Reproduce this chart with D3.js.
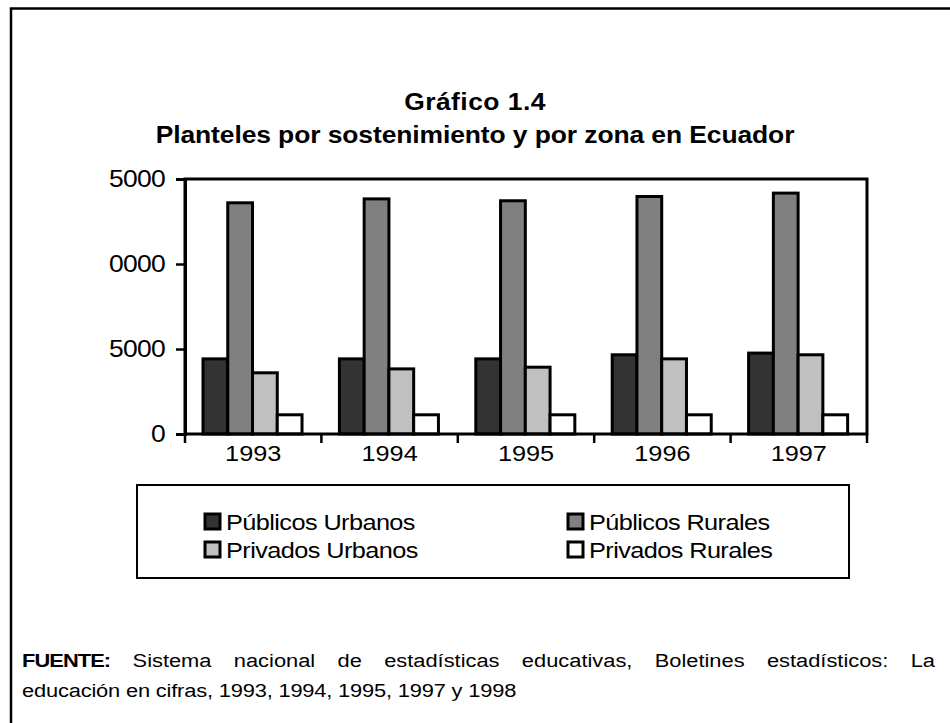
<!DOCTYPE html>
<html>
<head>
<meta charset="utf-8">
<script src="https://cdn.jsdelivr.net/npm/d3@7"></script>
<style>
  html, body { margin: 0; padding: 0; background: #fff; }
  svg text { font-family: "Liberation Sans", Arial, sans-serif; fill: #000; }
</style>
</head>
<body>
<svg id="chart" width="950" height="723"></svg>
<script>
// ---- data ----
const years = ["1993", "1994", "1995", "1996", "1997"];
const seriesNames = ["Públicos Urbanos", "Públicos Rurales", "Privados Urbanos", "Privados Rurales"];
const publicosUrbanos = [4420, 4420, 4420, 4660, 4760];
const publicosRurales = [13600, 13830, 13720, 13970, 14170];
const privadosUrbanos = [3600, 3830, 3930, 4420, 4660];
const privadosRurales = [1130, 1130, 1130, 1130, 1130];
const yTicks = [0, 5000, 10000, 15000];
// labels as printed in the source (leading digit cut off there)
const yTickLabels = ["0", "5000", "0000", "5000"];
const titleLines = ["Gráfico 1.4", "Planteles por sostenimiento y por zona en Ecuador"];
const sourceBold = "FUENTE:";
const sourceLine1 = "Sistema nacional de estadísticas educativas, Boletines estadísticos: La";
const sourceLine2 = "educación en cifras, 1993, 1994, 1995, 1997 y 1998";

const seriesValues = [publicosUrbanos, publicosRurales, privadosUrbanos, privadosRurales];
const fills = ["#333333", "#808080", "#c0c0c0", "#ffffff"];

// ---- layout ----
const SX = 1.15; // horizontal text stretch seen in the reference
const svg = d3.select("#chart");
const plot = { left: 185, right: 867, top: 179, bottom: 434 };

function txt(g, x, y, s, size, opts = {}) {
  const t = g.append("text")
    .attr("transform", `translate(${x},${y}) scale(${SX},1)`)
    .attr("font-size", size)
    .attr("font-weight", opts.bold ? "bold" : "normal")
    .attr("text-anchor", opts.anchor || "start")
    .text(s);
  if (opts.spacing) t.attr("letter-spacing", opts.spacing);
  return t;
}

// outer frame (left + top lines)
svg.append("path")
  .attr("d", "M11,723 V8.5 H950")
  .attr("fill", "none").attr("stroke", "#000").attr("stroke-width", 2.5);

// title
txt(svg, 475, 110, titleLines[0], 23, { bold: true, anchor: "middle", spacing: 0.4 });
txt(svg, 475, 143, titleLines[1], 23, { bold: true, anchor: "middle", spacing: -0.08 });

// scales
const x0 = d3.scaleBand().domain(years).range([plot.left, plot.right]).padding(0);
const bw = x0.bandwidth();
const x1 = d3.scaleBand().domain(seriesNames).range([bw * 0.132, bw * 0.858]).padding(0);
const y = d3.scaleLinear().domain([0, 15000]).range([plot.bottom, plot.top]);

// bars
const data = years.map((yr, i) => ({ year: yr, vals: seriesNames.map((s, j) => ({ s, j, v: seriesValues[j][i] })) }));
const groups = svg.append("g").selectAll("g").data(data).join("g")
  .attr("transform", d => `translate(${x0(d.year)},0)`);
groups.selectAll("rect").data(d => d.vals).join("rect")
  .attr("x", d => x1(d.s))
  .attr("width", x1.bandwidth())
  .attr("y", d => y(d.v))
  .attr("height", d => y(0) - y(d.v))
  .attr("fill", d => fills[d.j])
  .attr("stroke", "#000")
  .attr("stroke-width", 3);

// plot frame
svg.append("rect")
  .attr("x", plot.left).attr("y", plot.top)
  .attr("width", plot.right - plot.left).attr("height", plot.bottom - plot.top)
  .attr("fill", "none").attr("stroke", "#000").attr("stroke-width", 3);

// y axis ticks
const yAxis = d3.axisLeft(y).tickValues(yTicks).tickSize(9).tickFormat("");
const ya = svg.append("g").attr("transform", `translate(${plot.left},0)`).call(yAxis);
ya.select(".domain").attr("stroke-width", 3);
ya.selectAll(".tick line").attr("stroke-width", 2.5);

// y labels
yTicks.forEach((v, i) => {
  txt(svg, 165, y(v) + 8, yTickLabels[i], 23, { anchor: "end", spacing: -0.6 });
});

// x axis ticks at band boundaries
const boundaries = years.map(yr => x0(yr)).concat([plot.right]);
svg.append("g").selectAll("line").data(boundaries).join("line")
  .attr("x1", d => d).attr("x2", d => d)
  .attr("y1", plot.bottom).attr("y2", plot.bottom + 9)
  .attr("stroke", "#000").attr("stroke-width", 2.5);

// x labels
years.forEach(yr => {
  txt(svg, x0(yr) + bw / 2, 461, yr, 22, { anchor: "middle" });
});

// legend
svg.append("rect")
  .attr("x", 137).attr("y", 485).attr("width", 712).attr("height", 93)
  .attr("fill", "none").attr("stroke", "#000").attr("stroke-width", 2);
const legPos = [[205, 522], [568, 522], [205, 550], [568, 550]];
seriesNames.forEach((s, j) => {
  const [lx, ly] = legPos[j];
  svg.append("rect")
    .attr("x", lx).attr("y", ly - 8).attr("width", 15).attr("height", 15)
    .attr("fill", fills[j]).attr("stroke", "#000").attr("stroke-width", 3);
  txt(svg, lx + 21, ly + 8, s, 22, { spacing: -0.5 });
});

// source note
const srcG = svg.append("g");
const srcSize = 19;
const lineLeft = 22, lineRight = 935;
// line 1: justified
const words1 = [sourceBold].concat(sourceLine1.split(" "));
const ws = words1.map((w, i) => {
  const t = txt(srcG, 0, 667, w, srcSize, { bold: i === 0, spacing: i === 0 ? -0.8 : 0 });
  return { t, w: t.node().getComputedTextLength() * SX };
});
const totalW = d3.sum(ws, d => d.w);
const gap = (lineRight - lineLeft - totalW) / (ws.length - 1);
let cx = lineLeft;
ws.forEach(d => {
  d.t.attr("transform", `translate(${cx},667) scale(${SX},1)`);
  cx += d.w + gap;
});
txt(srcG, lineLeft, 697, sourceLine2, srcSize, { spacing: -0.15 });
</script>
</body>
</html>
